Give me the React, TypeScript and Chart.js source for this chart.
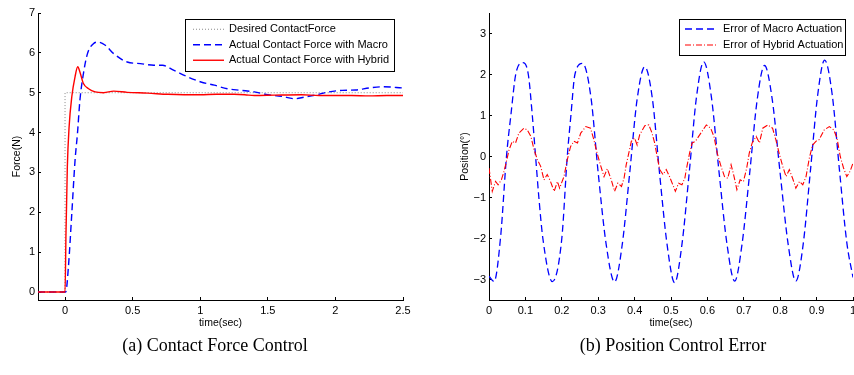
import React, { useEffect, useRef } from "react";
import { Chart, registerables } from "chart.js";

Chart.register(...registerables);

// ---------- (a) Contact Force Control ----------
const forceLegendLabels = [
  "Desired ContactForce",
  "Actual Contact Force with Macro",
  "Actual Contact Force with Hybrid",
];
const forceDesiredT = [-0.2, 0, 0, 2.5];
const forceDesiredF = [0, 0, 5, 5];

const forceMacroT = [
  -0.2, 0.005, 0.025, 0.05, 0.074, 0.092, 0.11, 0.136, 0.166, 0.21,
  0.245, 0.298, 0.36, 0.46, 0.558, 0.657, 0.72, 0.806, 0.906, 1.005,
  1.104, 1.2, 1.3, 1.4, 1.5, 1.6, 1.7, 1.77, 1.85, 1.95,
  2.05, 2.15, 2.25, 2.35, 2.5,
];
const forceMacroF = [
  0, 0, 0.63, 1.97, 3.3, 3.98, 4.81, 5.48, 5.98, 6.23,
  6.27, 6.19, 5.98, 5.77, 5.73, 5.69, 5.69, 5.56, 5.4, 5.27,
  5.19, 5.1, 5.06, 5.02, 4.95, 4.91, 4.85, 4.89, 4.94, 5.02,
  5.06, 5.07, 5.12, 5.15, 5.12,
];

const forceHybridT = [
  -0.2, 0, 0.007, 0.017, 0.03, 0.05, 0.074, 0.094, 0.11, 0.136,
  0.174, 0.223, 0.285, 0.36, 0.46, 0.61, 0.76, 0.88, 1.0, 1.12,
  1.25, 1.33, 1.4, 1.55, 1.75, 1.88, 2.0, 2.12, 2.25, 2.38,
  2.5,
];
const forceHybridF = [
  0, 0, 1.47, 3.14, 4.14, 4.9, 5.4, 5.65, 5.52, 5.23,
  5.1, 5.02, 5.0, 5.04, 5.01, 4.99, 4.96, 4.95, 4.95, 4.96,
  4.96, 4.95, 4.93, 4.94, 4.95, 4.93, 4.93, 4.93, 4.92, 4.93,
  4.93,
];

const forceXTicks = [0, 0.5, 1, 1.5, 2, 2.5];
const forceYTicks = [0, 1, 2, 3, 4, 5, 6, 7];

// ---------- (b) Position Control Error ----------
const errLegendLabels = ["Error of Macro Actuation", "Error of Hybrid Actuation"];

const errMacroT = [
  0, 0.014, 0.032, 0.048, 0.06, 0.074, 0.093, 0.108, 0.119, 0.128,
  0.137, 0.148, 0.174, 0.2, 0.215, 0.225, 0.236, 0.257, 0.28, 0.3,
  0.322, 0.345, 0.366, 0.386, 0.407, 0.428, 0.449, 0.469, 0.49, 0.51,
  0.53, 0.55, 0.57, 0.59, 0.611, 0.632, 0.654, 0.675, 0.695, 0.716,
  0.737, 0.757, 0.778, 0.8, 0.822, 0.843, 0.863, 0.883, 0.903, 0.922,
  0.943, 0.963, 0.983, 1.0,
];
const errMacroV = [
  -2.92, -3.05, -1.95, 0.0, 1.0, 2.03, 2.29, 2.0, 1.0, 0.0,
  -1.0, -2.0, -3.05, -2.0, 0.0, 1.0, 2.0, 2.27, 1.45, -0.4,
  -2.15, -3.06, -2.15, -0.45, 1.4, 2.19, 1.4, -0.45, -2.2, -3.08,
  -2.15, -0.4, 1.45, 2.31, 1.45, -0.38, -2.15, -3.04, -2.15, -0.42,
  1.4, 2.22, 1.4, -0.42, -2.15, -3.04, -2.15, -0.35, 1.5, 2.35,
  1.5, -0.35, -2.1, -2.95,
];

const errHybridT = [
  0, 0.009, 0.018, 0.025, 0.034, 0.04, 0.048, 0.055, 0.064, 0.073,
  0.082, 0.096, 0.105, 0.115, 0.124, 0.133, 0.142, 0.151, 0.16, 0.169,
  0.179, 0.188, 0.194, 0.206, 0.215, 0.224, 0.233, 0.243, 0.252, 0.266,
  0.279, 0.288, 0.297, 0.306, 0.316, 0.325, 0.336, 0.345, 0.354, 0.364,
  0.371, 0.377, 0.384, 0.391, 0.4, 0.407, 0.414, 0.428, 0.439, 0.448,
  0.455, 0.462, 0.469, 0.478, 0.487, 0.496, 0.505, 0.512, 0.521, 0.53,
  0.538, 0.542, 0.551, 0.558, 0.567, 0.576, 0.588, 0.597, 0.609, 0.618,
  0.627, 0.636, 0.647, 0.656, 0.665, 0.672, 0.681, 0.69, 0.699, 0.708,
  0.715, 0.723, 0.734, 0.743, 0.752, 0.766, 0.779, 0.788, 0.797, 0.807,
  0.816, 0.825, 0.834, 0.843, 0.853, 0.862, 0.871, 0.88, 0.889, 0.898,
  0.907, 0.921, 0.935, 0.947, 0.956, 0.965, 0.974, 0.983, 0.992, 1.0,
];
const errHybridV = [
  -0.28, -0.85, -0.61, -0.69, -0.57, -0.4, -0.12, 0.16, 0.37, 0.33,
  0.57, 0.69, 0.65, 0.49, 0.16, -0.08, -0.24, -0.57, -0.44, -0.61,
  -0.85, -0.61, -0.77, -0.49, -0.08, 0.24, 0.37, 0.33, 0.57, 0.73,
  0.69, 0.41, 0.08, -0.2, -0.49, -0.3, -0.57, -0.85, -0.65, -0.73,
  -0.53, -0.2, 0.08, 0.37, 0.45, 0.28, 0.53, 0.75, 0.77, 0.57,
  0.33, 0.0, -0.32, -0.44, -0.32, -0.49, -0.69, -0.85, -0.65, -0.69,
  -0.53, -0.32, 0.08, 0.33, 0.37, 0.49, 0.65, 0.77, 0.69, 0.49,
  0.08, -0.2, -0.49, -0.53, -0.2, -0.44, -0.81, -0.57, -0.61, -0.28,
  0.08, 0.33, 0.49, 0.33, 0.69, 0.77, 0.69, 0.41, 0.08, -0.24,
  -0.49, -0.32, -0.53, -0.77, -0.61, -0.69, -0.49, -0.04, 0.28, 0.37,
  0.41, 0.65, 0.73, 0.65, 0.45, 0.0, -0.28, -0.49, -0.36, -0.16,
];

const errXTicks = [0, 0.1, 0.2, 0.3, 0.4, 0.5, 0.6, 0.7, 0.8, 0.9, 1];
const errYTicks = [-3, -2, -1, 0, 1, 2, 3];

// ---------- helpers ----------
const SANS = '"Liberation Sans", Arial, Helvetica, sans-serif';

const zip = (xs: number[], ys: number[]) => xs.map((x, i) => ({ x, y: ys[i] }));
const fmt = (v: number) => (v < 0 ? "\u2212" + String(Math.abs(v)) : String(v));

const boxLegend = {
  id: "boxLegend",
  afterDatasetsDraw(chart: any, _args: any, opts: any) {
    const { ctx, chartArea } = chart;
    const items = chart.data.datasets;
    ctx.save();
    ctx.font = `${opts.fontSize}px ${SANS}`;
    const textW = Math.max(...items.map((d: any) => ctx.measureText(d.label).width));
    const w = Math.round(opts.padLeft + opts.sample + opts.gap + textW + opts.padRight);
    const h = Math.round(opts.rowH * items.length + opts.padY * 2);
    const x0 = Math.round(chartArea.right - opts.right - w);
    const y0 = Math.round(chartArea.top + opts.top);
    ctx.fillStyle = "#fff";
    ctx.fillRect(x0, y0, w, h);
    ctx.strokeStyle = "#000";
    ctx.lineWidth = 1;
    ctx.setLineDash([]);
    ctx.strokeRect(x0 + 0.5, y0 + 0.5, w, h);
    items.forEach((d: any, i: number) => {
      const cy = y0 + opts.padY + opts.rowH * (i + 0.5);
      ctx.save();
      ctx.setLineDash(d.borderDash || []);
      ctx.strokeStyle = d.borderColor;
      ctx.lineWidth = d.borderWidth;
      ctx.beginPath();
      ctx.moveTo(x0 + opts.padLeft, cy);
      ctx.lineTo(x0 + opts.padLeft + opts.sample, cy);
      ctx.stroke();
      ctx.restore();
      ctx.fillStyle = "#000";
      ctx.textBaseline = "middle";
      ctx.textAlign = "left";
      ctx.fillText(d.label, x0 + opts.padLeft + opts.sample + opts.gap, cy);
    });
    ctx.restore();
  },
};

function axisCommon() {
  return {
    grid: { drawOnChartArea: false, drawTicks: true, tickLength: -3, color: "#000", lineWidth: 1 },
    border: { display: true, color: "#000", width: 1 },
  };
}

function ChartCanvas({ config, width, height, left, top }: any) {
  const ref = useRef<HTMLCanvasElement | null>(null);
  useEffect(() => {
    if (!ref.current) return;
    const chart = new Chart(ref.current, config);
    return () => chart.destroy();
  }, []);
  return (
    <canvas
      ref={ref}
      width={width}
      height={height}
      style={{ position: "absolute", left, top, width, height }}
    />
  );
}

const fitX = (s: any) => {
  s.height = 35;
  s.paddingLeft = 0;
  s.paddingRight = 0;
};

const forceConfig: any = {
  type: "line",
  data: {
    datasets: [
      {
        label: forceLegendLabels[0],
        data: zip(forceDesiredT, forceDesiredF),
        borderColor: "#8a8a8a",
        borderWidth: 1,
        borderDash: [1, 2],
        pointRadius: 0,
        order: 2,
      },
      {
        label: forceLegendLabels[1],
        data: zip(forceMacroT, forceMacroF),
        borderColor: "#0000ff",
        borderWidth: 1.4,
        borderDash: [7, 4],
        pointRadius: 0,
        cubicInterpolationMode: "monotone",
        order: 1,
      },
      {
        label: forceLegendLabels[2],
        data: zip(forceHybridT, forceHybridF),
        borderColor: "#ff0000",
        borderWidth: 1.4,
        pointRadius: 0,
        cubicInterpolationMode: "monotone",
        order: 0,
      },
    ],
  },
  options: {
    responsive: false,
    animation: false,
    layout: { padding: { top: 13, right: 17, left: 0, bottom: 0 } },
    plugins: {
      legend: { display: false },
      tooltip: { enabled: false },
      boxLegend: { fontSize: 11, padLeft: 8, sample: 31, gap: 5, padRight: 5, rowH: 15.5, padY: 2.5, right: 9, top: 6 },
    },
    scales: {
      x: {
        type: "linear",
        min: -0.2,
        max: 2.5,
        ...axisCommon(),
        afterBuildTicks: (s: any) => { s.ticks = forceXTicks.map((v) => ({ value: v })); },
        afterFit: fitX,
        ticks: { autoSkip: false, maxRotation: 0, padding: 7, color: "#000", font: { family: SANS, size: 11 }, callback: (v: any) => fmt(v) },
        title: { display: true, text: "time(sec)", color: "#000", font: { family: SANS, size: 10.5 }, padding: { top: 0, bottom: 6 } },
      },
      y: {
        type: "linear",
        min: -0.2,
        max: 7,
        ...axisCommon(),
        afterBuildTicks: (s: any) => { s.ticks = forceYTicks.map((v) => ({ value: v })); },
        afterFit: (s: any) => { s.width = 38; },
        ticks: { autoSkip: false, padding: 6, color: "#000", font: { family: SANS, size: 11 }, callback: (v: any) => fmt(v) },
        title: { display: true, text: "Force(N)", color: "#000", font: { family: SANS, size: 10.5 }, padding: { top: 11, bottom: 0 } },
      },
    },
  },
  plugins: [boxLegend],
};

const errConfig: any = {
  type: "line",
  data: {
    datasets: [
      {
        label: errLegendLabels[0],
        data: zip(errMacroT, errMacroV),
        borderColor: "#0000ff",
        borderWidth: 1.3,
        borderDash: [7, 4],
        pointRadius: 0,
        cubicInterpolationMode: "monotone",
        order: 1,
      },
      {
        label: errLegendLabels[1],
        data: zip(errHybridT, errHybridV),
        borderColor: "#ff0000",
        borderWidth: 1.1,
        borderDash: [6, 2, 1, 2],
        pointRadius: 0,
        order: 0,
      },
    ],
  },
  options: {
    responsive: false,
    animation: false,
    layout: { padding: { top: 13, right: 1, left: 0, bottom: 0 } },
    plugins: {
      legend: { display: false },
      tooltip: { enabled: false },
      boxLegend: { fontSize: 11, padLeft: 6, sample: 33, gap: 5, padRight: 2, rowH: 16, padY: 2, right: 8, top: 6 },
    },
    scales: {
      x: {
        type: "linear",
        min: 0,
        max: 1,
        ...axisCommon(),
        afterBuildTicks: (s: any) => { s.ticks = errXTicks.map((v) => ({ value: v })); },
        afterFit: fitX,
        ticks: { autoSkip: false, maxRotation: 0, padding: 7, color: "#000", font: { family: SANS, size: 11 }, callback: (v: any) => fmt(v) },
        title: { display: true, text: "time(sec)", color: "#000", font: { family: SANS, size: 10.5 }, padding: { top: 0, bottom: 6 } },
      },
      y: {
        type: "linear",
        min: -3.5,
        max: 3.5,
        ...axisCommon(),
        afterBuildTicks: (s: any) => { s.ticks = errYTicks.map((v) => ({ value: v })); },
        afterFit: (s: any) => { s.width = 59; },
        ticks: { autoSkip: false, padding: 6, color: "#000", font: { family: SANS, size: 11 }, callback: (v: any) => fmt(v) },
        title: { display: true, text: "Position(\u00b0)", color: "#000", font: { family: SANS, size: 10.5 }, padding: { top: 29, bottom: 0 } },
      },
    },
  },
  plugins: [boxLegend],
};

const captionStyle: React.CSSProperties = {
  position: "absolute",
  top: 333,
  fontFamily: '"Liberation Serif", "Times New Roman", serif',
  fontSize: 18,
  lineHeight: "24px",
  color: "#000",
  whiteSpace: "nowrap",
  transform: "translateX(-50%)",
};

export default function App() {
  return (
    <div style={{ position: "fixed", left: 0, top: 0, width: 854, height: 375, background: "#fff", overflow: "hidden" }}>
      <ChartCanvas config={forceConfig} width={420} height={335} left={0} top={0} />
      <ChartCanvas config={errConfig} width={424} height={335} left={430} top={0} />
      <div style={{ ...captionStyle, left: 215 }}>(a) Contact Force Control</div>
      <div style={{ ...captionStyle, left: 673 }}>(b) Position Control Error</div>
    </div>
  );
}
